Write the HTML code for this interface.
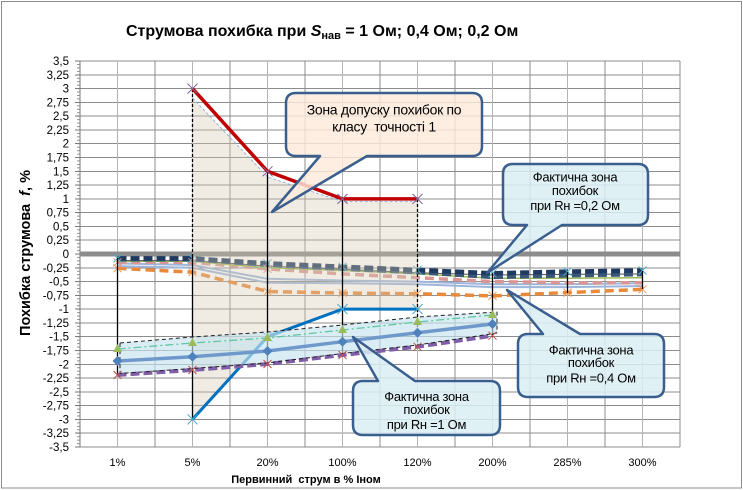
<!DOCTYPE html>
<html><head><meta charset="utf-8">
<style>
html,body{margin:0;padding:0;background:#fff}
svg{display:block}
text{font-family:"Liberation Sans","DejaVu Sans",sans-serif;fill:#000}
</style></head><body>
<svg width="743" height="490" viewBox="0 0 743 490" xmlns="http://www.w3.org/2000/svg">
<defs>
<pattern id="mt" patternUnits="userSpaceOnUse" x="0" y="60.6" width="10" height="3.4464"><rect x="0" y="0" width="10" height="0.8" fill="#7a7a7a"/></pattern>
</defs>
<rect x="0" y="0" width="743" height="490" fill="#fff"/>
<rect x="1.5" y="1.5" width="740" height="486.5" fill="none" stroke="#8C8C8C"/>

<!-- title -->
<text x="126" y="36" font-size="16" font-weight="bold">Струмова похибка при <tspan font-style="italic">S</tspan><tspan font-size="11" dy="3">нав</tspan><tspan dy="-3"> = 1 Ом; 0,4 Ом; 0,2 Ом</tspan></text>

<!-- grid -->
<g stroke="#8C8C8C" stroke-width="1" fill="none" shape-rendering="crispEdges">
<path d="M80 61H680M80 74.8H680M80 88.6H680M80 102.4H680M80 116.1H680M80 129.9H680M80 143.7H680M80 157.5H680M80 171.3H680M80 185.1H680M80 198.9H680M80 212.6H680M80 226.4H680M80 240.2H680M80 267.8H680M80 281.6H680M80 295.4H680M80 309.1H680M80 322.9H680M80 336.7H680M80 350.5H680M80 364.3H680M80 378.1H680M80 391.9H680M80 405.6H680M80 419.4H680M80 433.2H680M80 447H680"/>
<path d="M155 61V447M230 61V447M305 61V447M380 61V447M455 61V447M530 61V447M605 61V447M680 61V447"/>
<path stroke="#B4B4B4" d="M117.5 61V447M192.5 61V447M267.5 61V447M342.5 61V447M417.5 61V447M492.5 61V447M567.5 61V447M642.5 61V447"/>
<path stroke="#7a7a7a" d="M80 61V447"/>
<path stroke="#7a7a7a" d="M75 61H80M75 74.8H80M75 88.6H80M75 102.4H80M75 116.1H80M75 129.9H80M75 143.7H80M75 157.5H80M75 171.3H80M75 185.1H80M75 198.9H80M75 212.6H80M75 226.4H80M75 240.2H80M75 254H80M75 267.8H80M75 281.6H80M75 295.4H80M75 309.1H80M75 322.9H80M75 336.7H80M75 350.5H80M75 364.3H80M75 378.1H80M75 391.9H80M75 405.6H80M75 419.4H80M75 433.2H80M75 447H80"/>
</g>
<rect x="77" y="61" width="3" height="386.5" fill="url(#mt)"/>

<!-- zero line -->
<path d="M80 254H680" stroke="#8C8C8C" stroke-width="5"/>

<!-- y labels -->
<g font-size="11.5" text-anchor="end">
<text x="69" y="65">3,5</text><text x="69" y="78.8">3,25</text><text x="69" y="92.6">3</text><text x="69" y="106.4">2,75</text><text x="69" y="120.1">2,5</text><text x="69" y="133.9">2,25</text><text x="69" y="147.7">2</text><text x="69" y="161.5">1,75</text><text x="69" y="175.3">1,5</text><text x="69" y="189.1">1,25</text><text x="69" y="202.9">1</text><text x="69" y="216.6">0,75</text><text x="69" y="230.4">0,5</text><text x="69" y="244.2">0,25</text><text x="69" y="258">0</text><text x="69" y="271.8">-0,25</text><text x="69" y="285.6">-0,5</text><text x="69" y="299.4">-0,75</text><text x="69" y="313.1">-1</text><text x="69" y="326.9">-1,25</text><text x="69" y="340.7">-1,5</text><text x="69" y="354.5">-1,75</text><text x="69" y="368.3">-2</text><text x="69" y="382.1">-2,25</text><text x="69" y="395.9">-2,5</text><text x="69" y="409.6">-2,75</text><text x="69" y="423.4">-3</text><text x="69" y="437.2">-3,25</text><text x="69" y="451">-3,5</text>
</g>

<!-- x labels -->
<g font-size="11" text-anchor="middle">
<text x="117.5" y="466">1%</text><text x="192.5" y="466">5%</text><text x="267.5" y="466">20%</text><text x="342.5" y="466">100%</text><text x="417.5" y="466">120%</text><text x="492.5" y="466">200%</text><text x="567.5" y="466">285%</text><text x="642.5" y="466">300%</text>
</g>
<text x="306" y="483" font-size="11" font-weight="bold" text-anchor="middle" xml:space="preserve">Первинний  струм в % Іном</text>
<text transform="translate(30,253) rotate(-90)" font-size="14.5" font-weight="bold" text-anchor="middle" xml:space="preserve">Похибка струмова  <tspan font-style="italic">f</tspan>, %</text>

<!-- near-zero series -->
<g fill="none">
<polyline points="117.5,268.3 192.5,272.2 267.5,291.5 342.5,293.1 417.5,293.7 492.5,295.9 567.5,292.6 642.5,289.3" stroke="#E9893B" stroke-width="3.5" stroke-dasharray="9,5"/>
<polyline points="117.5,266.1 192.5,267.8 267.5,282.7 342.5,283.2 417.5,284.3 492.5,287.1 567.5,287.1 642.5,286" stroke="#9DB5DA" stroke-width="2"/>
<polyline points="117.5,263.4 192.5,265 267.5,278.8 342.5,280.5 417.5,281.6 492.5,284.3 567.5,284.3 642.5,283.2" stroke="#9DB5DA" stroke-width="2"/>
<polyline points="117.5,262.3 192.5,262.3 267.5,268.9 342.5,273.9 417.5,277.7 492.5,281.6 567.5,282.7 642.5,282.7" stroke="#DA9694" stroke-width="3.5" stroke-dasharray="9,5"/>
<polyline points="117.5,261.2 192.5,261.2 267.5,267.8 342.5,270.5 417.5,273.9 492.5,278.3 567.5,278.3 642.5,277.7" stroke="#9BBB59" stroke-width="1.5"/>
<polyline points="117.5,260.6 192.5,260.6 267.5,266.1 342.5,269.4 417.5,272.7 492.5,275 567.5,274.4 642.5,273.9" stroke="#505050" stroke-width="1"/>
<polyline points="117.5,259.5 192.5,259.5 267.5,265 342.5,268.9 417.5,272.2 492.5,277.2 567.5,275.5 642.5,274.4" stroke="#3A5678" stroke-width="4" stroke-dasharray="9,4"/>
<polyline points="117.5,258.4 192.5,258.4 267.5,263.4 342.5,266.7 417.5,270 492.5,273.3 567.5,271.6 642.5,270.5" stroke="#1F3A60" stroke-width="4.5" stroke-dasharray="9,4"/>
<path stroke="#4BACC6" stroke-width="1" d="M113.5 254.4l8 8m0-8l-8 8M188.5 254.4l8 8m0-8l-8 8M263.5 259.4l8 8m0-8l-8 8M338.5 262.7l8 8m0-8l-8 8M413.5 266l8 8m0-8l-8 8M488.5 269.3l8 8m0-8l-8 8M563.5 267.6l8 8m0-8l-8 8M638.5 266.5l8 8m0-8l-8 8"/>
<path stroke="#F79646" stroke-width="1" d="M113.5 264.3l8 8m0-8l-8 8M188.5 268.2l8 8m0-8l-8 8M263.5 287.5l8 8m0-8l-8 8M338.5 289.1l8 8m0-8l-8 8M413.5 289.7l8 8m0-8l-8 8M488.5 291.9l8 8m0-8l-8 8M563.5 288.6l8 8m0-8l-8 8M638.5 285.3l8 8m0-8l-8 8"/>
<path stroke="#D99795" stroke-width="1" d="M113.5 258.3l8 8m0-8l-8 8M188.5 258.3l8 8m0-8l-8 8M263.5 264.9l8 8m0-8l-8 8"/>
</g>

<!-- tolerance zone fill (over near-zero series) -->
<polygon points="192.5,98 267.5,177 342.5,201.6 417.5,201.6 417.5,309.1 342.5,309.1 267.5,336.7 192.5,419.4" fill="#D5CAB5" fill-opacity="0.36"/>
<polyline points="192.5,98 267.5,177 342.5,201.6 417.5,201.6" fill="none" stroke="#95B3D7" stroke-width="1" stroke-dasharray="3,2"/>

<!-- high-low lines -->
<g stroke="#000" stroke-width="1.3" fill="none">
<path d="M117.5 258V375"/>
<path d="M192.5 255V419.4"/>
<path d="M192.5 89V255" stroke-dasharray="3,2"/>
<path d="M267.5 172V364"/>
<path d="M342.5 199V355"/>
<path d="M417.5 199V347" stroke-dasharray="3,2"/>
<path d="M492.5 273V337"/>
<path d="M567.5 272V293"/>
<path d="M642.5 271V289"/>
</g>

<!-- tolerance lines -->
<polyline points="192.5,88.6 267.5,171.3 342.5,198.9 417.5,198.9" fill="none" stroke="#C00000" stroke-width="3.5"/>
<polyline points="192.5,419.4 267.5,336.7 342.5,309.1 417.5,309.1" fill="none" stroke="#0070C0" stroke-width="3"/>
<path fill="none" stroke="#8064A2" stroke-width="1" d="M187.5 83.6l10 10m0-10l-10 10M262.5 166.3l10 10m0-10l-10 10M337.5 193.9l10 10m0-10l-10 10M412.5 193.9l10 10m0-10l-10 10"/>
<path fill="none" stroke="#4BACC6" stroke-width="1" d="M187.5 414.4l10 10m0-10l-10 10M262.5 331.7l10 10m0-10l-10 10M337.5 304.1l10 10m0-10l-10 10M412.5 304.1l10 10m0-10l-10 10"/>

<!-- Rн=1 band -->
<polygon points="118,343 192.5,337 267.5,332 342.5,325 417.5,317 497,312 497,333 417.5,345 342.5,353.5 267.5,363 192.5,368.5 118,373.5" fill="#C6E3EE" fill-opacity="0.65"/>
<g fill="none">
<polyline points="117.5,349 192.5,343 267.5,338 342.5,330 417.5,322 492.5,315" stroke="#5FC79E" stroke-width="1.3" stroke-dasharray="8,3,2,3"/>
<polyline points="117.5,375 192.5,370 267.5,364 342.5,355 417.5,346.7 492.5,335.7" stroke="#7F5FA8" stroke-width="4" stroke-dasharray="9,4"/>
<polyline points="117.5,361 192.5,356.7 267.5,351 342.5,341.7 417.5,332.7 492.5,324" stroke="#7099CB" stroke-width="3.5"/>
<polyline points="120,343 192.5,337 267.5,332 342.5,325 417.5,317 497,312 497,333 417.5,345 342.5,353.5 267.5,363 192.5,368.5 120,373.5 120,343" stroke="#222" stroke-width="1" stroke-dasharray="4,3"/>
</g>
<g fill="#9BBB59">
<polygon points="117.5,344 122,352 113,352"/><polygon points="192.5,338 197,346 188,346"/><polygon points="267.5,333 272,341 263,341"/><polygon points="342.5,325 347,333 338,333"/><polygon points="417.5,317 422,325 413,325"/><polygon points="492.5,310 497,318 488,318"/>
</g>
<g fill="#4F81BD">
<polygon points="117.5,356 122.5,361 117.5,366 112.5,361"/><polygon points="192.5,351.7 197.5,356.7 192.5,361.7 187.5,356.7"/><polygon points="267.5,346 272.5,351 267.5,356 262.5,351"/><polygon points="342.5,336.7 347.5,341.7 342.5,346.7 337.5,341.7"/><polygon points="417.5,327.7 422.5,332.7 417.5,337.7 412.5,332.7"/><polygon points="492.5,319 497.5,324 492.5,329 487.5,324"/>
</g>
<path fill="none" stroke="#C0504D" stroke-width="1" d="M113.5 371l8 8m0-8l-8 8M188.5 366l8 8m0-8l-8 8M263.5 360l8 8m0-8l-8 8M338.5 351l8 8m0-8l-8 8M413.5 342.7l8 8m0-8l-8 8M488.5 331.7l8 8m0-8l-8 8"/>

<!-- callouts -->
<g stroke="#3A5F8F" stroke-width="2.5" stroke-linejoin="round">
<path d="M296 93H472Q482 93 482 103V146Q482 156 472 156H367L272 212L320 156H296Q286 156 286 146V103Q286 93 296 93Z" fill="#FDEADA" fill-opacity="0.82"/>
<path d="M513 164H638Q648 164 648 174V215Q648 225 638 225H562L487 273L527 225H513Q503 225 503 215V174Q503 164 513 164Z" fill="#DBEEF4" fill-opacity="0.85"/>
<path d="M528 334H543L507 290L580 334H654Q664 334 664 344V387Q664 397 654 397H528Q518 397 518 387V344Q518 334 528 334Z" fill="#DBEEF4" fill-opacity="0.85"/>
<path d="M363 381H378L353 337L415 381H490Q500 381 500 391V425Q500 435 490 435H363Q353 435 353 425V391Q353 381 363 381Z" fill="#DBEEF4" fill-opacity="0.85"/>
</g>
<g text-anchor="middle">
<text x="384" y="114.5" font-size="14" letter-spacing="-0.3">Зона допуску похибок по</text>
<text x="384" y="131.5" font-size="14" letter-spacing="-0.3" xml:space="preserve">класу  точності 1</text>
<g font-size="13" letter-spacing="-0.3">
<text x="575" y="181.5">Фактична зона</text>
<text x="575" y="195">похибок</text>
<text x="575" y="210">при Rн =0,2 Ом</text>
<text x="591" y="354.5">Фактична зона</text>
<text x="591" y="367">похибок</text>
<text x="591" y="382.5">при Rн =0,4 Ом</text>
<text x="426.5" y="401">Фактична зона</text>
<text x="426.5" y="414">похибок</text>
<text x="426.5" y="429">при Rн =1 Ом</text>
</g>
</g>
</svg>
</body></html>
